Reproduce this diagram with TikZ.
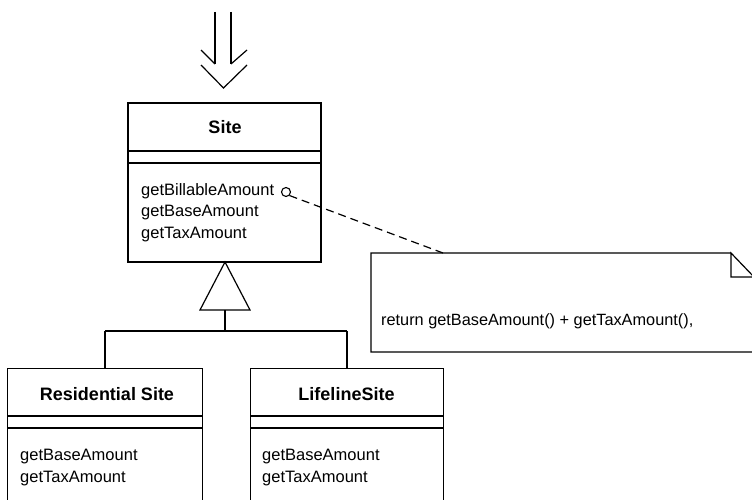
\documentclass[tikz,border=0pt]{standalone}
\usepackage{fontspec}
\setmainfont{Liberation Sans}
\begin{document}
\begin{tikzpicture}[x=1pt,y=-1pt,
  line/.style={draw=black,line width=1.2pt},
  classbox/.style={draw=black,line width=1.2pt,rectangle,inner sep=0pt},
  title/.style={font=\fontsize{18}{20}\selectfont\bfseries,inner sep=0pt,anchor=base},
  meth/.style={font=\fontsize{16.5}{19}\selectfont,inner sep=0pt,anchor=base west,align=left},
  ]
\useasboundingbox (0,0) rectangle (752,500);
\clip (0,0) rectangle (752,500);
% incoming double arrow
\coordinate (a1) at (215,12);
\coordinate (a2) at (231,12);
\coordinate (a1e) at (215,64);
\coordinate (a2e) at (231,64);
\draw[line] (a1) -- (a1e);
\draw[line] (a2) -- (a2e);
\draw[line] (201,50) -- (a1e);
\draw[line] (247,50) -- (a2e);
\draw[line] (201,65) -- (223.5,88) -- (247,65);
% Site class
\node[classbox,minimum width=193pt,minimum height=159pt] (site) at (224.5,182.5) {};
\draw[line] (128,151) -- (321,151);
\draw[line] (128,163) -- (321,163);
\node[title] (sitet) at (225,133.5) {Site};
\node[meth] (m1) at (141,195) {getBillableAmount};
\node[meth] (m2) at (141,216.5) {getBaseAmount};
\node[meth] (m3) at (141,238) {getTaxAmount};
\node[draw=black,line width=1.1pt,circle,inner sep=0pt,minimum size=9pt] (circ) at (286,192) {};
% note
\coordinate (n1) at (371,253);
\coordinate (nf) at (731,253);
\coordinate (nfc) at (731,277);
\coordinate (nr) at (754,277);
\coordinate (nb) at (754,352);
\coordinate (n4) at (371,352);
\draw[line] (nf) -- (n1) -- (n4) -- (nb) -- (nr) -- (nf) -- (nfc) -- (nr);
\node[meth,font=\fontsize{16.3}{19}\selectfont] (notet) at (381,325) {return getBaseAmount() + getTaxAmount(),};
\coordinate (nattach) at (443,253);
\draw[line,dash pattern=on 8pt off 5pt] (circ.south east) -- (nattach);
% generalization
\coordinate (tapex) at (225,262);
\coordinate (tl) at (200,310);
\coordinate (tr) at (250,310);
\coordinate (tb) at (225,310);
\coordinate (j) at (225,331);
\coordinate (jl) at (105,331);
\coordinate (jr) at (347,331);
\draw[line,line join=miter] (tapex) -- (tl) -- (tr) -- cycle;
\draw[line] (tb) -- (j);
\draw[line] (jl) -- (jr);
% subclasses
\node[classbox,minimum width=195pt,minimum height=150pt,anchor=north west] (res) at (7,368) {};
\node[classbox,minimum width=193pt,minimum height=150pt,anchor=north west] (life) at (250,368) {};
\draw[line] (jl) -- (res.north -| jl);
\draw[line] (jr) -- (life.north -| jr);
\draw[line] (7,416) -- (202,416);
\draw[line] (7,428) -- (202,428);
\draw[line] (250,416) -- (443,416);
\draw[line] (250,428) -- (443,428);
\node[title] (rest) at (107,400) {Residential Site};
\node[title] (lifet) at (346.5,400) {LifelineSite};
\node[meth] (r1) at (20,460) {getBaseAmount};
\node[meth] (r2) at (20,482) {getTaxAmount};
\node[meth] (l1) at (262,460) {getBaseAmount};
\node[meth] (l2) at (262,482) {getTaxAmount};
\end{tikzpicture}
\end{document}
